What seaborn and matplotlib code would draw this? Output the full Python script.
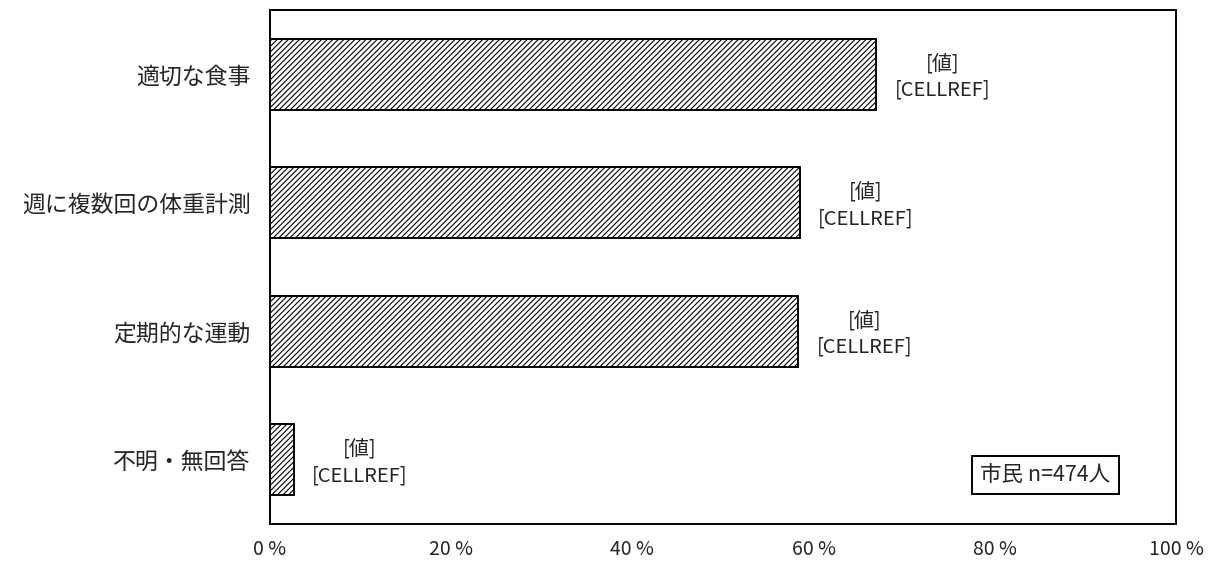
import numpy as np
import pandas as pd
import matplotlib
matplotlib.use('Agg')
import matplotlib.pyplot as plt
import seaborn as sns

# Chart data
categories = ['適切な食事', '週に複数回の体重計測', '定期的な運動', '不明・無回答']
values = [66.9, 58.5, 58.3, 2.6]
bar_labels = ['[値]\n[CELLREF]'] * len(categories)
x_ticks = [0, 20, 40, 60, 80, 100]
x_ticklabels = [f'{t} %' for t in x_ticks]
sample_note = '市民 n=474人'

sns.set_style('white')
plt.rcParams['font.family'] = ['Noto Sans CJK JP', 'DejaVu Sans']
plt.rcParams['hatch.linewidth'] = 0.8
plt.rcParams['hatch.color'] = '#2a2a2a'

df = pd.DataFrame({'item': categories, 'pct': values})

fig = plt.figure(figsize=(12.14, 5.63), dpi=100)
ax = fig.add_axes([0.2224, 0.0693, 0.7463, 0.9129])

sns.barplot(data=df, x='pct', y='item', orient='h', color='white',
            edgecolor='black', linewidth=1.4, width=0.55, ax=ax)

# Hatch the bars (fine diagonal pattern)
for patch in ax.patches:
    patch.set_hatch('//////')

# Data labels to the right of each bar
for i, (v, lab) in enumerate(zip(values, bar_labels)):
    ax.text(v + 7.3, i + 0.02, lab, ha='center', va='center', fontsize=14.5,
            linespacing=1.35)

# Axes styling
ax.set_xlim(0, 100)
ax.set_ylim(3.5, -0.5)
ax.set_xticks(x_ticks)
ax.set_xticklabels(x_ticklabels, fontsize=14)
ax.tick_params(axis='x', length=0, pad=11)
ax.tick_params(axis='y', which='major', length=0, pad=14, labelsize=16.5)
ax.set_yticks([0.5, 1.5, 2.5], minor=True)
ax.tick_params(axis='y', which='minor', direction='in', length=7, width=1.2)
ax.set_xlabel('')
ax.set_ylabel('')
for side in ['left', 'right', 'top', 'bottom']:
    ax.spines[side].set_visible(True)
    ax.spines[side].set_color('black')
    ax.spines[side].set_linewidth(1.4)

# Sample size note
ax.text(85.6, 3.12, sample_note, ha='center', va='center', fontsize=15.5,
        bbox=dict(boxstyle='square,pad=0.38', facecolor='white',
                  edgecolor='black', linewidth=1.4))

fig.savefig('out.png', dpi=100)
